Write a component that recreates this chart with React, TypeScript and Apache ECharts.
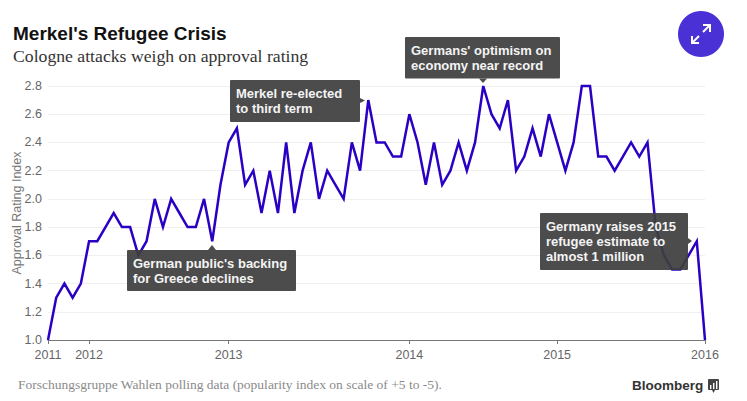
import React, { useEffect, useRef } from "react";
import * as echarts from "echarts";

const values = [
  1.0, 1.3, 1.4, 1.3, 1.4, 1.7, 1.7, 1.8, 1.9, 1.8, 1.8, 1.6, 1.7, 2.0, 1.8, 2.0, 1.9, 1.8, 1.8, 2.0, 1.7, 2.1,
  2.4, 2.5, 2.1, 2.2, 1.9, 2.2, 1.9, 2.4, 1.9, 2.2, 2.4, 2.0, 2.2, 2.1, 2.0, 2.4, 2.2, 2.7, 2.4, 2.4, 2.3, 2.3,
  2.6, 2.4, 2.1, 2.4, 2.1, 2.2, 2.4, 2.2, 2.4, 2.8, 2.6, 2.5, 2.7, 2.2, 2.3, 2.5, 2.3, 2.6,
  2.4, 2.2, 2.4, 2.8, 2.8, 2.3, 2.3, 2.2, 2.3, 2.4, 2.3, 2.4, 1.8, 1.6, 1.5, 1.5, 1.6, 1.7, 1.0,
];
const yearIndexes = [0, 5, 22, 44, 62, 80];
const yearLabels = ["2011", "2012", "2013", "2014", "2015", "2016"];
const categories = values.map((_, i) => {
  const k = yearIndexes.indexOf(i);
  return k >= 0 ? yearLabels[k] : "";
});

const titleText = "Merkel's Refugee Crisis";
const subtitleText = "Cologne attacks weigh on approval rating";
const footerText = "Forschungsgruppe Wahlen polling data (popularity index on scale of +5 to -5).";

const SANS = "'Liberation Sans', Arial, sans-serif";
const SERIF = "'Liberation Serif', serif";
const BOX = "rgba(62,62,62,0.93)";

function note(x: number, y: number, w: number, h: number, lines: string[], arrow: number[][]) {
  return [
    { type: "rect", z: 20, shape: { x, y, width: w, height: h, r: 1 }, style: { fill: BOX } },
    { type: "polygon", z: 20, shape: { points: arrow }, style: { fill: BOX } },
    ...lines.map((t, i) => ({
      type: "text",
      z: 21,
      x: x + 6,
      y: y + 13 + i * 15,
      style: {
        text: t,
        fill: "#f4f4f4",
        font: `bold 13px ${SANS}`,
        textVerticalAlign: "middle",
      },
    })),
  ];
}

export default function App() {
  const ref = useRef<HTMLDivElement>(null);
  useEffect(() => {
    const chart = echarts.init(ref.current!, undefined, { renderer: "svg" });
    chart.setOption({
      animation: false,
      backgroundColor: "#ffffff",
      grid: { left: 48, right: 42, top: 86, bottom: 61, outerBoundsMode: "none" },
      xAxis: {
        type: "category",
        data: categories,
        boundaryGap: false,
        axisLine: { lineStyle: { color: "#777777", width: 1 } },
        axisTick: {
          length: 4,
          lineStyle: { color: "#777777" },
          interval: (i: number) => yearIndexes.includes(i),
        },
        axisLabel: {
          interval: (i: number) => yearIndexes.includes(i),
          color: "#666666",
          fontFamily: SANS,
          fontSize: 12.5,
          margin: 8,
          showMinLabel: true,
          showMaxLabel: true,
        },
        splitLine: { show: false },
      },
      yAxis: {
        type: "value",
        min: 1.0,
        max: 2.8,
        interval: 0.2,
        name: "Approval Rating Index",
        nameLocation: "middle",
        nameRotate: 90,
        nameGap: 25,
        nameMoveOverlap: false,
        nameTextStyle: { color: "#777777", fontFamily: SANS, fontSize: 12.5 },
        axisLine: { show: false },
        axisTick: { show: false },
        axisLabel: {
          color: "#666666",
          fontFamily: SANS,
          fontSize: 12.5,
          margin: 6,
          formatter: (v: number) => v.toFixed(1),
        },
        splitLine: { lineStyle: { color: "#efefef", width: 1 } },
      },
      series: [
        {
          type: "line",
          data: values,
          symbol: "none",
          clip: false,
          lineStyle: { color: "#2a00c4", width: 2.5, join: "miter" },
        },
      ],
      graphic: [
        { type: "text", x: 13, y: 33, style: { text: titleText, fill: "#111111", font: `bold 19px ${SANS}`, textVerticalAlign: "middle" } },
        { type: "text", x: 13, y: 56, style: { text: subtitleText, fill: "#333333", font: `17.7px ${SERIF}`, textVerticalAlign: "middle" } },
        { type: "text", x: 18, y: 384, style: { text: footerText, fill: "#8a8a8a", font: `13.5px ${SERIF}`, textVerticalAlign: "middle" } },
        { type: "text", x: 632, y: 385, style: { text: "Bloomberg", fill: "#333333", font: `bold 13.5px ${SANS}`, textVerticalAlign: "middle" } },
        { type: "rect", shape: { x: 708, y: 379, width: 11, height: 11, r: 1 }, style: { fill: "#444444" } },
        { type: "polygon", shape: { points: [[712, 390], [715, 390], [713.5, 393]] }, style: { fill: "#444444" } },
        { type: "rect", shape: { x: 710, y: 385, width: 1.4, height: 4 }, style: { fill: "#ffffff" } },
        { type: "rect", shape: { x: 713, y: 383, width: 1.4, height: 6 }, style: { fill: "#ffffff" } },
        { type: "rect", shape: { x: 716, y: 381, width: 1.4, height: 8 }, style: { fill: "#ffffff" } },
        { type: "circle", shape: { cx: 701, cy: 34, r: 23 }, style: { fill: "#4a31d6" } },
        { type: "line", shape: { x1: 703, y1: 32, x2: 710, y2: 25 }, style: { stroke: "#ffffff", lineWidth: 2 } },
        { type: "polyline", shape: { points: [[703, 25], [710, 25], [710, 32]] }, style: { stroke: "#ffffff", lineWidth: 2, fill: "none" } },
        { type: "line", shape: { x1: 699, y1: 36, x2: 692, y2: 43 }, style: { stroke: "#ffffff", lineWidth: 2 } },
        { type: "polyline", shape: { points: [[692, 36], [692, 43], [699, 43]] }, style: { stroke: "#ffffff", lineWidth: 2, fill: "none" } },
        ...note(127, 250, 169, 41, ["German public's backing", "for Greece declines"], [[208, 250], [212, 245], [216, 250]]),
        ...note(230, 80, 130, 42, ["Merkel re-elected", "to third term"], [[360, 98], [365, 100.5], [360, 103]]),
        ...note(405, 37, 155, 41.5, ["Germans' optimism on", "economy near record"], [[479, 78.5], [483, 83], [487, 78.5]]),
        ...note(540, 213, 148, 57, ["Germany raises 2015", "refugee estimate to", "almost 1 million"], [[688, 238], [692, 241], [688, 244]]),
      ],
    });
    return () => chart.dispose();
  }, []);
  return <div ref={ref} style={{ position: "fixed", left: 0, top: 0, width: 747, height: 401 }} />;
}
